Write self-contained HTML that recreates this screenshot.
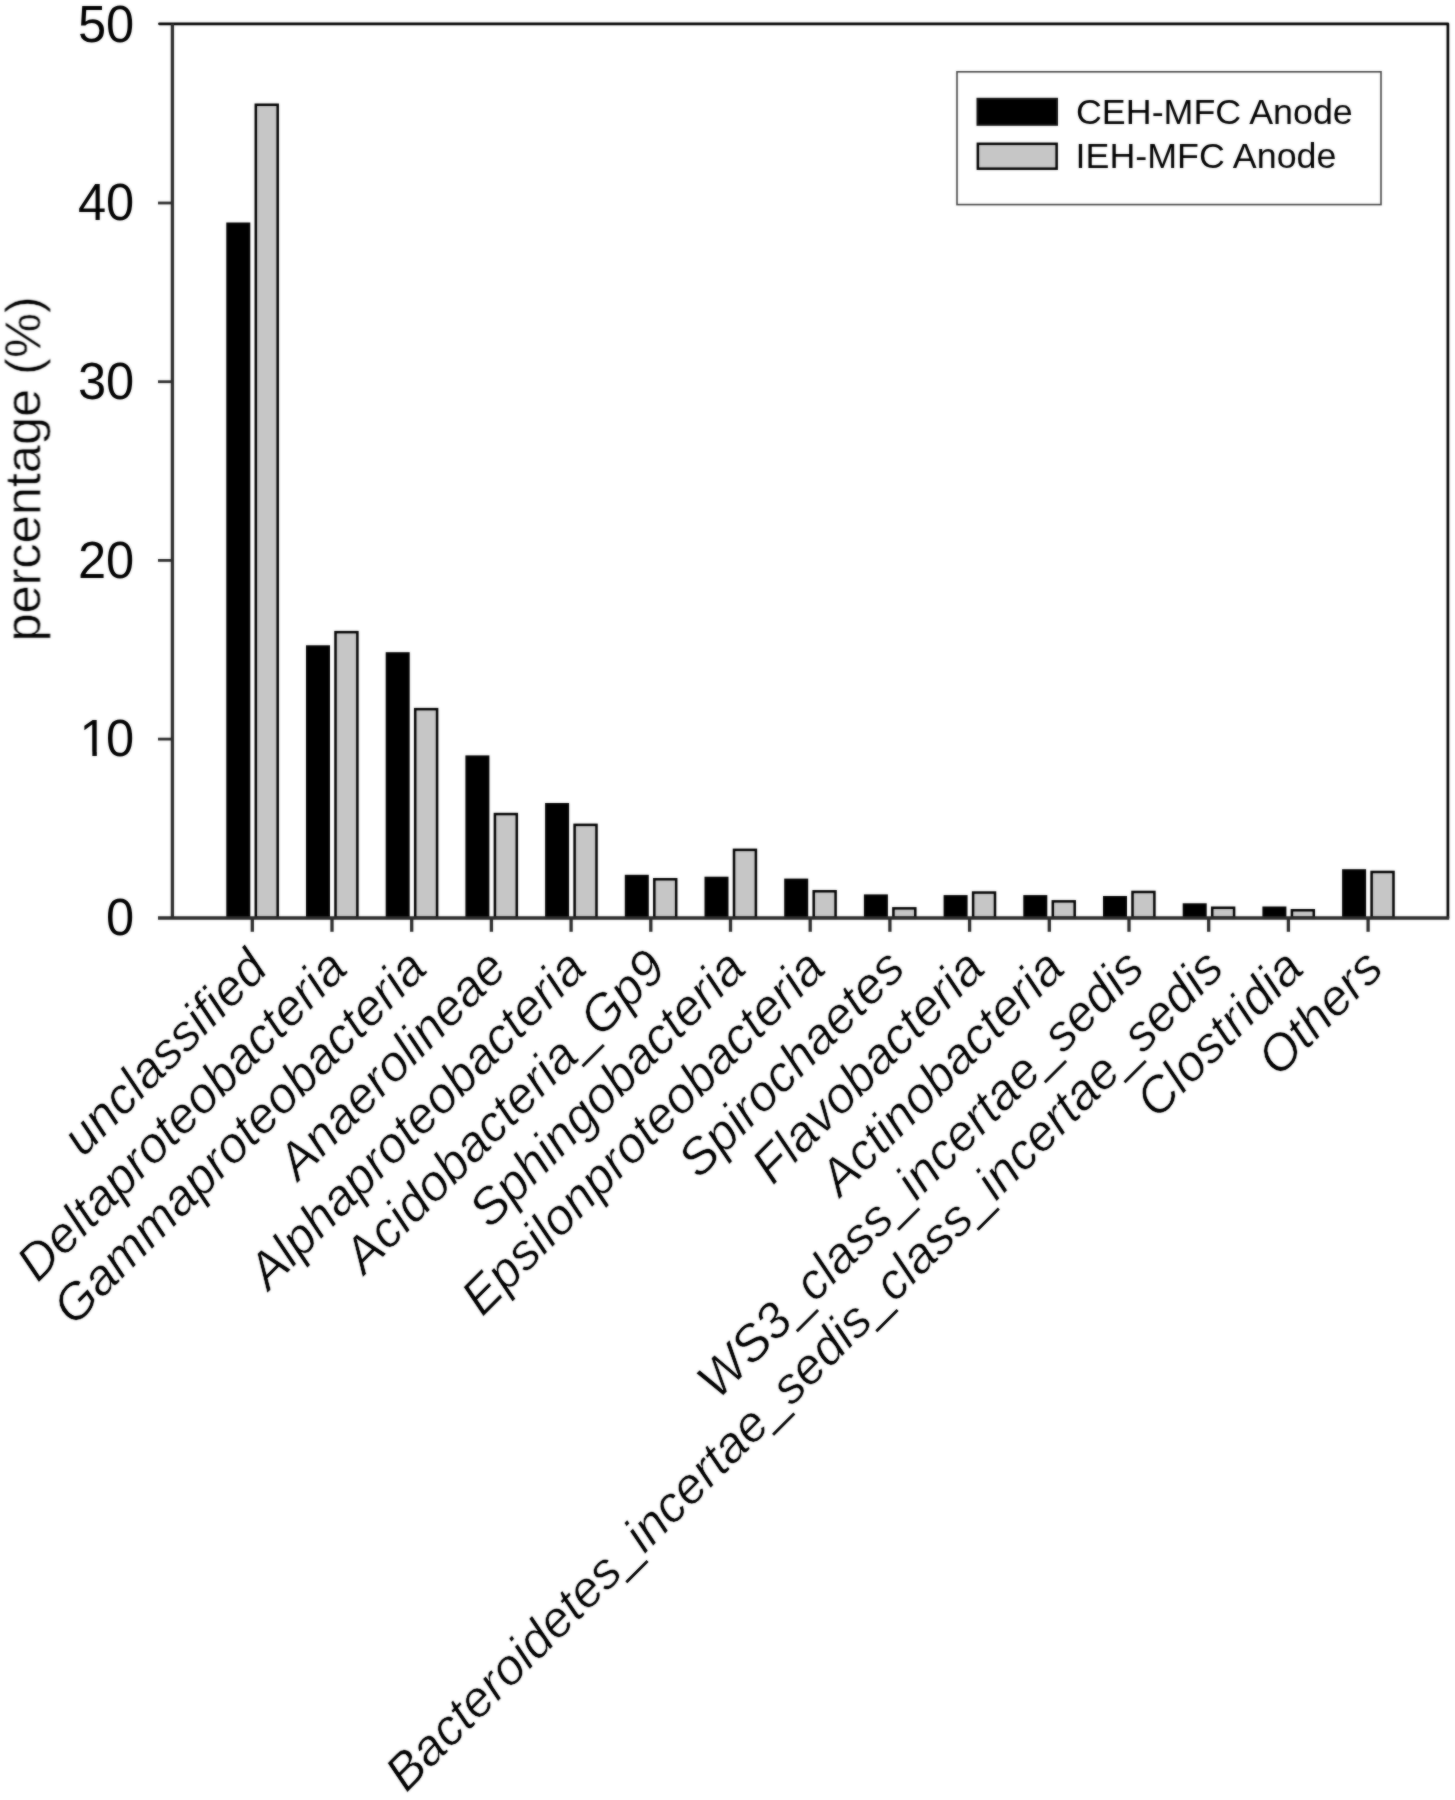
<!DOCTYPE html>
<html><head><meta charset="utf-8"><title>Figure</title>
<style>
html,body{margin:0;padding:0;background:#fff;}
svg{display:block}
text{font-family:"Liberation Sans",sans-serif;fill:#000;}
</style></head><body>
<svg width="1455" height="1800" viewBox="0 0 1455 1800">
<defs><filter id="soft" color-interpolation-filters="sRGB" x="0" y="0" width="1455" height="1800" filterUnits="userSpaceOnUse"><feGaussianBlur stdDeviation="0.8" result="b"/><feComposite in="b" in2="SourceGraphic" operator="arithmetic" k1="0" k2="0.5" k3="0.5" k4="0"/></filter></defs>
<rect x="0" y="0" width="1455" height="1800" fill="#fff"/>
<g filter="url(#soft)">

<g stroke="#000" stroke-width="2.5">
<rect x="227.55" y="223.75" width="21.5" height="694.05" fill="#000"/>
<rect x="255.8" y="104.75" width="21.9" height="813.05" fill="#c6c6c6"/>
<rect x="307.25" y="646.55" width="21.5" height="271.25" fill="#000"/>
<rect x="335.5" y="632.15" width="21.9" height="285.65" fill="#c6c6c6"/>
<rect x="386.95" y="653.45" width="21.5" height="264.35" fill="#000"/>
<rect x="415.2" y="709.15" width="21.9" height="208.65" fill="#c6c6c6"/>
<rect x="466.65" y="756.65" width="21.5" height="161.15" fill="#000"/>
<rect x="494.9" y="814.05" width="21.9" height="103.75" fill="#c6c6c6"/>
<rect x="546.35" y="804.25" width="21.5" height="113.55" fill="#000"/>
<rect x="574.6" y="824.85" width="21.9" height="92.95" fill="#c6c6c6"/>
<rect x="626.05" y="876.05" width="21.5" height="41.75" fill="#000"/>
<rect x="654.3" y="879.25" width="21.9" height="38.55" fill="#c6c6c6"/>
<rect x="705.75" y="877.95" width="21.5" height="39.85" fill="#000"/>
<rect x="734.0" y="849.85" width="21.9" height="67.95" fill="#c6c6c6"/>
<rect x="785.45" y="879.85" width="21.5" height="37.95" fill="#000"/>
<rect x="813.7" y="891.25" width="21.9" height="26.55" fill="#c6c6c6"/>
<rect x="865.15" y="895.65" width="21.5" height="22.15" fill="#000"/>
<rect x="893.4" y="908.35" width="21.9" height="9.45" fill="#c6c6c6"/>
<rect x="944.85" y="896.35" width="21.5" height="21.45" fill="#000"/>
<rect x="973.1" y="892.55" width="21.9" height="25.25" fill="#c6c6c6"/>
<rect x="1024.55" y="896.35" width="21.5" height="21.45" fill="#000"/>
<rect x="1052.8" y="901.35" width="21.9" height="16.45" fill="#c6c6c6"/>
<rect x="1104.25" y="897.25" width="21.5" height="20.55" fill="#000"/>
<rect x="1132.5" y="891.95" width="21.9" height="25.85" fill="#c6c6c6"/>
<rect x="1183.95" y="904.55" width="21.5" height="13.25" fill="#000"/>
<rect x="1212.2" y="907.75" width="21.9" height="10.05" fill="#c6c6c6"/>
<rect x="1263.65" y="907.75" width="21.5" height="10.05" fill="#000"/>
<rect x="1291.9" y="910.25" width="21.9" height="7.55" fill="#c6c6c6"/>
<rect x="1343.35" y="870.45" width="21.5" height="47.35" fill="#000"/>
<rect x="1371.6" y="871.95" width="21.9" height="45.85" fill="#c6c6c6"/>
</g>
<path d="M159.4 23.8 H1447.9 V918.0" stroke="#000" stroke-width="2.7" fill="none" stroke-linecap="round" stroke-linejoin="round"/>
<g stroke="#2c2c2c" stroke-width="3.3" fill="none" stroke-linecap="butt">
<path d="M1449.2 918.0 H158.0 M172.4 23.8 V918.0"/>
<path d="M158.0 739.1 H172.6" stroke-width="2.8"/>
<path d="M158.0 560.4 H172.6" stroke-width="2.8"/>
<path d="M158.0 381.7 H172.6" stroke-width="2.8"/>
<path d="M158.0 203.0 H172.6" stroke-width="2.8"/>
<path d="M252.3 918.0 V931.8"/>
<path d="M332.0 918.0 V931.8"/>
<path d="M411.7 918.0 V931.8"/>
<path d="M491.4 918.0 V931.8"/>
<path d="M571.1 918.0 V931.8"/>
<path d="M650.8 918.0 V931.8"/>
<path d="M730.5 918.0 V931.8"/>
<path d="M810.2 918.0 V931.8"/>
<path d="M889.9 918.0 V931.8"/>
<path d="M969.6 918.0 V931.8"/>
<path d="M1049.3 918.0 V931.8"/>
<path d="M1129.0 918.0 V931.8"/>
<path d="M1208.7 918.0 V931.8"/>
<path d="M1288.4 918.0 V931.8"/>
<path d="M1368.1 918.0 V931.8"/>
</g>
<g font-size="50.6" text-anchor="end">
<text transform="translate(134.2,935.1) scale(1,1.04)">0</text>
<text transform="translate(134.2,756.4) scale(1,1.04)">0</text>
<text text-anchor="start" transform="translate(79.62,756.4) scale(1,1.04)">1</text>
<rect x="82.47" y="751.87" width="9.87" height="5.33" fill="#fff"/>
<rect x="96.81" y="751.87" width="9.47" height="5.33" fill="#fff"/>
<text transform="translate(134.2,577.7) scale(1,1.04)">20</text>
<text transform="translate(134.2,399.0) scale(1,1.04)">30</text>
<text transform="translate(134.2,220.3) scale(1,1.04)">40</text>
<text transform="translate(134.2,41.6) scale(1,1.04)">50</text>
</g>
<text font-size="50.5" text-anchor="middle" stroke="#fff" stroke-width="0.5" transform="translate(40.5,468.9) rotate(-90)">percentage (%)</text>
<g font-size="50.6" font-style="italic" text-anchor="end" stroke="#fff" stroke-width="0.5">
<text transform="translate(269.8,970.8) rotate(-45.1)">unclassified</text>
<text transform="translate(349.5,970.8) rotate(-45.1)">Deltaproteobacteria</text>
<text transform="translate(429.2,970.8) rotate(-45.1)">Gammaproteobacteria</text>
<text transform="translate(508.9,970.8) rotate(-45.1)">Anaerolineae</text>
<text transform="translate(588.6,970.8) rotate(-45.1)">Alphaproteobacteria</text>
<text transform="translate(668.3,970.8) rotate(-45.1)">Acidobacteria<tspan dy="1.5" stroke="#000" stroke-width="1">_</tspan><tspan dy="-1.5">Gp9</tspan></text>
<text transform="translate(748.0,970.8) rotate(-45.1)">Sphingobacteria</text>
<text transform="translate(827.7,970.8) rotate(-45.1)">Epsilonproteobacteria</text>
<text transform="translate(907.4,970.8) rotate(-45.1)">Spirochaetes</text>
<text transform="translate(987.1,970.8) rotate(-45.1)">Flavobacteria</text>
<text transform="translate(1066.8,970.8) rotate(-45.1)">Actinobacteria</text>
<text transform="translate(1146.5,970.8) rotate(-45.1)">WS3<tspan dy="1.5" stroke="#000" stroke-width="1">_</tspan><tspan dy="-1.5">class</tspan><tspan dy="1.5" stroke="#000" stroke-width="1">_</tspan><tspan dy="-1.5">incertae</tspan><tspan dy="1.5" stroke="#000" stroke-width="1">_</tspan><tspan dy="-1.5">sedis</tspan></text>
<text transform="translate(1226.2,970.8) rotate(-45.1)">Bacteroidetes<tspan dy="1.5" stroke="#000" stroke-width="1">_</tspan><tspan dy="-1.5">incertae</tspan><tspan dy="1.5" stroke="#000" stroke-width="1">_</tspan><tspan dy="-1.5">sedis</tspan><tspan dy="1.5" stroke="#000" stroke-width="1">_</tspan><tspan dy="-1.5">class</tspan><tspan dy="1.5" stroke="#000" stroke-width="1">_</tspan><tspan dy="-1.5">incertae</tspan><tspan dy="1.5" stroke="#000" stroke-width="1">_</tspan><tspan dy="-1.5">sedis</tspan></text>
<text transform="translate(1305.9,970.8) rotate(-45.1)">Clostridia</text>
<text transform="translate(1385.6,970.8) rotate(-45.1)">Others</text>
</g>
<rect x="957" y="71.8" width="424" height="132.8" fill="#fff" stroke="#444" stroke-width="1.6"/>
<rect x="977.5" y="98.8" width="79.5" height="26" fill="#000" stroke="#111" stroke-width="2"/>
<rect x="977.85" y="143.8" width="78.8" height="24.9" fill="#c6c6c6" stroke="#000" stroke-width="2.5"/>
<text font-size="35.84" transform="translate(1076.0,124.2) scale(1,1.0)">CEH-MFC Anode</text>
<text font-size="35.84" transform="translate(1075.6,168.4) scale(1,1.0)">IEH-MFC Anode</text>
</g></svg></body></html>
